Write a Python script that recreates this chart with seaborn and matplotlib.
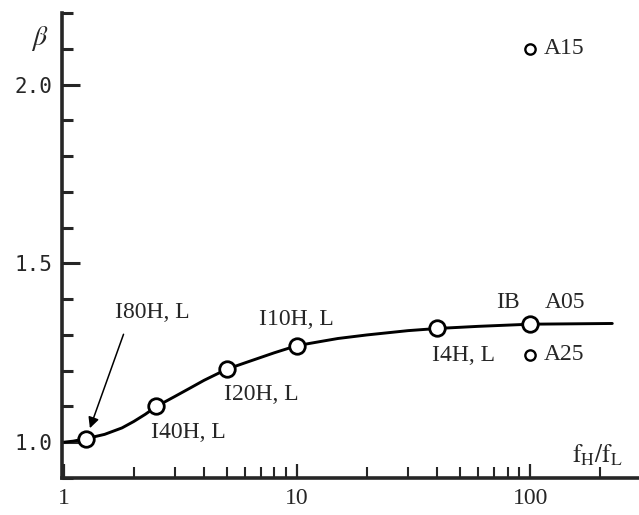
import numpy as np
import pandas as pd
import matplotlib
matplotlib.use("Agg")
import matplotlib.pyplot as plt
from matplotlib.ticker import LogLocator, MultipleLocator, FixedLocator, NullFormatter
import seaborn as sns

# values
curve_x = [1, 1.1, 1.25, 1.5, 1.78, 2, 2.24, 2.5, 3, 3.5, 4, 5, 6, 7, 8, 10,
           13, 15, 20, 30, 40, 60, 100, 150, 225]
curve_y = [1.0, 1.003, 1.01, 1.022, 1.04, 1.058, 1.078, 1.10, 1.128, 1.152, 1.173,
           1.204, 1.222, 1.237, 1.250, 1.27, 1.283, 1.290, 1.300, 1.312, 1.318,
           1.324, 1.33, 1.331, 1.332]

pt_names = ["I80H, L", "I40H, L", "I20H, L", "I10H, L", "I4H, L", "IB"]
pt_x = [1.25, 2.5, 5, 10, 40, 100]
pt_y = [1.01, 1.10, 1.204, 1.27, 1.318, 1.33]

extra_names = ["A15", "A25"]
extra_x = [100, 100]
extra_y = [2.10, 1.245]

x_ticks = [1, 10, 100]
x_ticklabels = ["1", "10", "100"]
y_ticks = [1.0, 1.5, 2.0]
y_ticklabels = ["1.0", "1.5", "2.0"]

sns.set_style("ticks")
plt.rcParams["font.family"] = ["Liberation Serif", "DejaVu Serif"]
plt.rcParams["mathtext.fontset"] = "stix"

fig = plt.figure(figsize=(6.39, 5.15), dpi=100)
ax = fig.add_axes([62 / 639, 1 - 478 / 515, 576 / 639, 465 / 515])

curve = pd.DataFrame({"x": curve_x, "y": curve_y})
sns.lineplot(data=curve, x="x", y="y", color="black", linewidth=2.1, ax=ax, zorder=2)

pts = pd.DataFrame({"x": pt_x, "y": pt_y, "name": pt_names})
sns.scatterplot(data=pts, x="x", y="y", s=125, color="white", edgecolor="black",
                linewidth=2.0, ax=ax, zorder=3)
ext = pd.DataFrame({"x": extra_x, "y": extra_y, "name": extra_names})
sns.scatterplot(data=ext, x="x", y="y", s=55, color="white", edgecolor="black",
                linewidth=1.7, ax=ax, zorder=3)

ax.set_xscale("log")
ax.set_xlim(0.985, 290)
ax.set_ylim(0.9, 2.2)
ax.set_xlabel("")
ax.set_ylabel("")

for s in ["top", "right"]:
    ax.spines[s].set_visible(False)
for s in ["left", "bottom"]:
    ax.spines[s].set_linewidth(2.6)

ax.xaxis.set_major_locator(FixedLocator(x_ticks))
ax.set_xticklabels(x_ticklabels)
ax.xaxis.set_minor_locator(LogLocator(base=10, subs=np.arange(2, 10), numticks=20))
ax.xaxis.set_minor_formatter(NullFormatter())
ax.yaxis.set_major_locator(FixedLocator(y_ticks))
ax.set_yticklabels(y_ticklabels)
ax.yaxis.set_minor_locator(MultipleLocator(0.1))

ax.tick_params(axis="x", which="major", direction="in", length=10, width=1.6, pad=7,
               labelsize=17)
ax.tick_params(axis="x", which="minor", direction="in", length=8, width=1.5)
ax.tick_params(axis="y", which="major", direction="in", length=13, width=2.2, pad=7,
               labelsize=15)
ax.tick_params(axis="y", which="minor", direction="in", length=8, width=2.2)
for lab in ax.get_yticklabels():
    lab.set_family("DejaVu Sans Mono")

# point labels, offsets in pixels from each marker
offsets = {"I40H, L": (32, -26), "I20H, L": (35, -25), "I10H, L": (0, 26),
           "I4H, L": (26, -27), "IB": (-22, 22)}
for name, x, y in zip(pt_names, pt_x, pt_y):
    if name in offsets:
        ax.annotate(name, (x, y), xytext=offsets[name], textcoords="offset pixels",
                    ha="center", va="center", fontsize=17)
ax.annotate("I80H, L", (pt_x[0], pt_y[0]), xytext=(66, 126), textcoords="offset pixels",
            ha="center", va="center", fontsize=17,
            arrowprops=dict(arrowstyle="-|>", color="black", lw=1.1, mutation_scale=16,
                            relpos=(0.17, 0.0), shrinkA=6, shrinkB=8))
ax.annotate("A05", (pt_x[-1], pt_y[-1]), xytext=(35, 22), textcoords="offset pixels",
            ha="center", va="center", fontsize=17)
for name, x, y in zip(extra_names, extra_x, extra_y):
    ax.annotate(name, (x, y), xytext=(14, 0), textcoords="offset pixels",
                ha="left", va="center", fontsize=17)

ax.text(-0.038, 2.128, r"$\beta$", transform=ax.get_yaxis_transform(),
        ha="center", va="center", fontsize=20)
ax.text(0.93, 0.05, r"$\mathrm{f_H/f_L}$", transform=ax.transAxes,
        ha="center", va="center", fontsize=18)

plt.savefig("out.png", dpi=100)
